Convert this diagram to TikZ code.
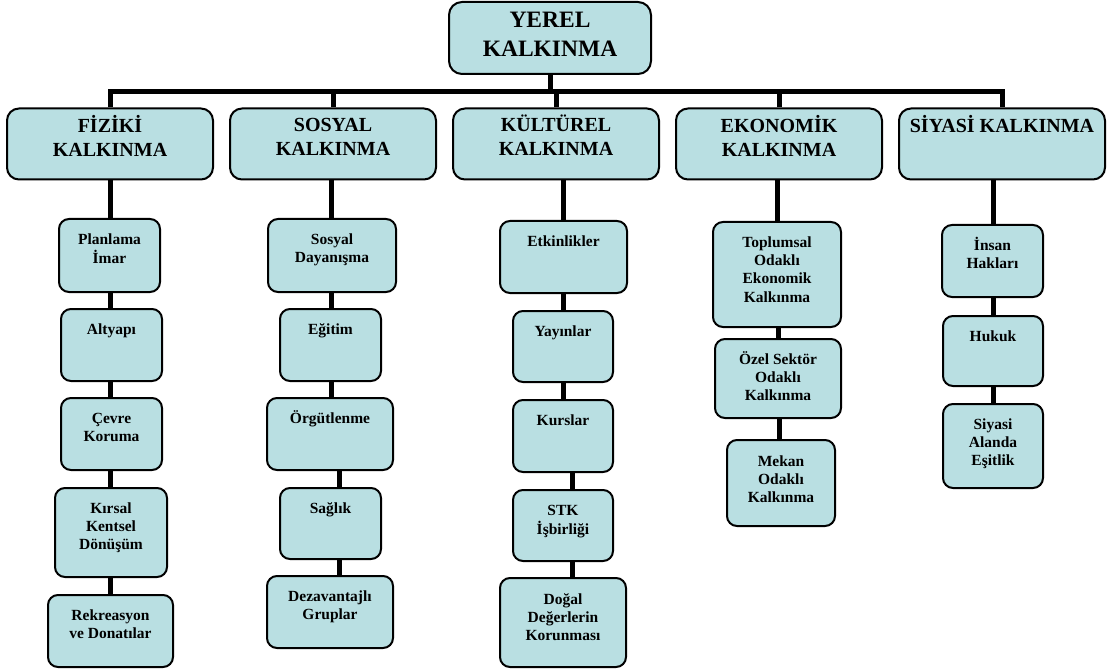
\documentclass[tikz,border=0pt]{standalone}
\usepackage{fontspec}
\setmainfont{Liberation Serif}
\usetikzlibrary{backgrounds}
\definecolor{boxfill}{RGB}{185,223,226}
\tikzset{
  boxbase/.style={draw=black, line width=2pt, fill=boxfill, inner sep=0pt},
  rootbox/.style={boxbase, rounded corners=13pt},
  topbox/.style={boxbase, rounded corners=12pt},
  leafbox/.style={boxbase, rounded corners=10pt},
  roottxt/.style={anchor=north, inner sep=0pt, align=center, font=\fontsize{23.5}{29}\selectfont\bfseries},
  toptxt/.style={anchor=north, inner sep=0pt, align=center, font=\fontsize{20}{24}\selectfont\bfseries},
  leaftxt/.style={anchor=north, inner sep=0pt, align=center, font=\fontsize{15.5}{18.3}\selectfont\bfseries},
  conn/.style={draw=black, line width=5pt, line join=miter}
}
\newcommand\bx[8]{%
  \node[#1box, minimum width=#5pt, minimum height=#6pt] (#2) at (#3,#4) {};
  \node[#1txt] (#2t) at ([yshift=-#7pt]#2.north) {\strut #8};}
\begin{document}
\begin{tikzpicture}[x=1pt,y=-1pt]
\useasboundingbox (0,0) rectangle (1111,671);
% root
\bx{root}{root}{550}{38}{202}{72}{5.7}{YEREL\\KALKINMA}
% level 1
\bx{top}{f}{110}{144}{206}{71}{7.2}{FİZİKİ\\KALKINMA}
\bx{top}{s}{333}{144}{206}{71}{7.2}{SOSYAL\\KALKINMA}
\bx{top}{k}{556}{144}{206}{71}{7.2}{KÜLTÜREL\\KALKINMA}
\bx{top}{e}{779}{144}{206}{71}{7.2}{EKONOMİK\\KALKINMA}
\bx{top}{y}{1002}{144}{206}{71}{7.2}{SİYASİ KALKINMA}
% column 1
\bx{leaf}{c11}{109.5}{255.5}{101}{73}{13.2}{Planlama\\İmar}
\bx{leaf}{c12}{111.5}{345}{101}{72}{13.2}{Altyapı}
\bx{leaf}{c13}{111.5}{434}{101}{72}{13.2}{Çevre\\Koruma}
\bx{leaf}{c14}{111}{532.5}{112}{89}{13.2}{Kırsal\\Kentsel\\Dönüşüm}
\bx{leaf}{c15}{110.5}{631}{125}{72}{13.2}{Rekreasyon\\ve Donatılar}
% column 2
\bx{leaf}{c21}{332}{255.5}{128}{73}{13.2}{Sosyal\\Dayanışma}
\bx{leaf}{c22}{330.5}{345}{101}{72}{13.2}{Eğitim}
\bx{leaf}{c23}{330}{434}{126}{72}{13.2}{Örgütlenme}
\bx{leaf}{c24}{330.5}{523.5}{101}{71}{13.2}{Sağlık}
\bx{leaf}{c25}{330}{612}{126}{72}{13.2}{Dezavantajlı\\Gruplar}
% column 3
\bx{leaf}{c31}{563.5}{257}{127}{72}{13.2}{Etkinlikler}
\bx{leaf}{c32}{563}{346.5}{100}{71}{13.2}{Yayınlar}
\bx{leaf}{c33}{563}{436}{100}{72}{13.2}{Kurslar}
\bx{leaf}{c34}{563}{525.5}{100}{71}{13.2}{STK\\İşbirliği}
\bx{leaf}{c35}{563}{622.5}{126}{89}{14}{Doğal\\Değerlerin\\Korunması}
% column 4
\bx{leaf}{c41}{777}{274.5}{128}{105}{13.2}{Toplumsal\\Odaklı\\Ekonomik\\Kalkınma}
\bx{leaf}{c42}{778}{378.5}{126}{79}{13.2}{Özel Sektör\\Odaklı\\Kalkınma}
\bx{leaf}{c43}{781}{483}{108}{86}{14}{Mekan\\Odaklı\\Kalkınma}
% column 5
\bx{leaf}{c51}{992.5}{261}{101}{72}{13.2}{İnsan\\Hakları}
\bx{leaf}{c52}{993}{351}{100}{70}{13.2}{Hukuk}
\bx{leaf}{c53}{993}{446}{100}{84}{13.2}{Siyasi\\Alanda\\Eşitlik}
% spines
\coordinate (busy) at (0,91.5);
\coordinate (sp1) at (110,0);
\coordinate (sp2a) at (331,0);
\coordinate (sp2b) at (339,0);
\coordinate (sp3a) at (563,0);
\coordinate (sp3b) at (572,0);
\coordinate (sp4a) at (777,0);
\coordinate (sp4b) at (778,0);
\coordinate (sp4c) at (779,0);
\coordinate (sp5) at (993,0);
\begin{scope}[on background layer]
\draw[conn] (f.north) |- (busy -| y.north) -- (y.north);
\draw[conn] (root.south) -- (root.south |- busy);
\draw[conn] (s.north) -- (s.north |- busy);
\draw[conn] (k.north) -- (k.north |- busy);
\draw[conn] (e.north) -- (e.north |- busy);
% column 1
\draw[conn] (f.south -| sp1) -- (c11.north -| sp1)
  (c11.south -| sp1) -- (c12.north -| sp1)
  (c12.south -| sp1) -- (c13.north -| sp1)
  (c13.south -| sp1) -- (c14.north -| sp1)
  (c14.south -| sp1) -- (c15.north -| sp1);
% column 2
\draw[conn] (s.south -| sp2a) -- (c21.north -| sp2a)
  (c21.south -| sp2a) -- (c22.north -| sp2a)
  (c22.south -| sp2a) -- (c23.north -| sp2a)
  (c23.south -| sp2b) -- (c24.north -| sp2b)
  (c24.south -| sp2b) -- (c25.north -| sp2b);
% column 3
\draw[conn] (k.south -| sp3a) -- (c31.north -| sp3a)
  (c31.south -| sp3a) -- (c32.north -| sp3a)
  (c32.south -| sp3a) -- (c33.north -| sp3a)
  (c33.south -| sp3b) -- (c34.north -| sp3b)
  (c34.south -| sp3b) -- (c35.north -| sp3b);
% column 4
\draw[conn] (e.south -| sp4a) -- (c41.north -| sp4a)
  (c41.south -| sp4b) -- (c42.north -| sp4b)
  (c42.south -| sp4c) -- (c43.north -| sp4c);
% column 5
\draw[conn] (y.south -| sp5) -- (c51.north -| sp5)
  (c51.south -| sp5) -- (c52.north -| sp5)
  (c52.south -| sp5) -- (c53.north -| sp5);
\end{scope}
\end{tikzpicture}
\end{document}
